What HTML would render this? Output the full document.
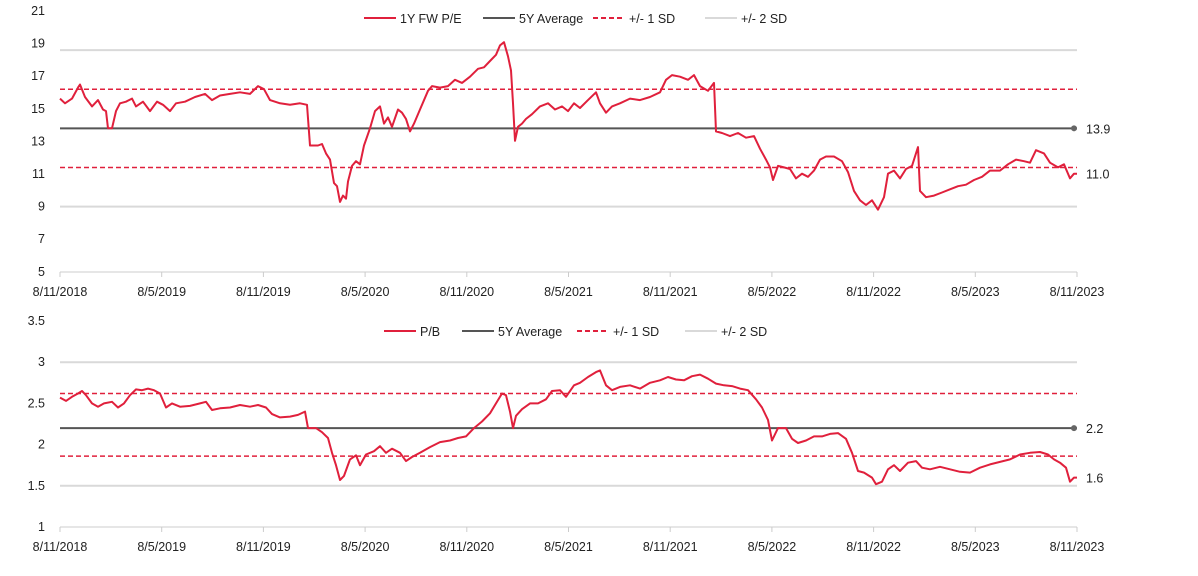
<!DOCTYPE html>
<html><head><meta charset="utf-8"><style>
body{margin:0;background:#fff;}
svg{display:block;font-family:"Liberation Sans",Arial,sans-serif;}
text{font-size:12.5px;fill:#222;}
</style></head><body>
<svg id="c" width="1198" height="576" viewBox="0 0 1198 576"></svg>
<script>
// time position on shared axis (0 = 8/11/2018, 1017 = 8/11/2023)
const xTickLabels = ["8/11/2018","8/5/2019","8/11/2019","8/5/2020","8/11/2020","8/5/2021","8/11/2021","8/5/2022","8/11/2022","8/5/2023","8/11/2023"];
const peT = [0,5,12,18,20,25,32,38,43,46,48,52,56,60,66,72,76,83,90,97,103,110,116,125,135,145,152,160,170,180,190,198,204,210,220,230,240,247,250,258,262,266,270,274,277,280,283,286,288,292,296,300,304,310,315,320,324,328,332,338,342,346,350,354,360,368,372,380,388,395,402,410,418,424,430,436,440,444,448,451,453,455,458,462,466,472,480,488,495,502,508,514,520,528,536,540,546,552,560,570,580,590,600,606,612,620,628,634,640,648,654,656,662,670,678,686,694,700,706,710,713,718,724,730,736,742,748,754,760,766,774,782,788,794,800,806,812,818,824,828,834,840,846,852,858,860,866,874,882,890,898,906,914,922,930,940,948,956,964,970,976,984,990,998,1004,1010,1014,1017];
const peV = [15.8,15.5,15.8,16.5,16.7,15.9,15.3,15.7,15.1,15.0,13.9,13.9,15.0,15.5,15.6,15.8,15.3,15.6,15.0,15.6,15.4,15.0,15.5,15.6,15.9,16.1,15.7,16.0,16.1,16.2,16.1,16.6,16.4,15.7,15.5,15.4,15.5,15.4,12.8,12.8,12.9,12.3,11.9,10.4,10.2,9.2,9.6,9.4,10.5,11.5,11.8,11.6,12.8,13.9,15.0,15.3,14.2,14.6,14.0,15.1,14.9,14.5,13.7,14.2,15.1,16.3,16.6,16.5,16.6,17.0,16.8,17.2,17.7,17.8,18.2,18.6,19.2,19.4,18.5,17.6,15.5,13.1,14.0,14.2,14.5,14.8,15.3,15.5,15.1,15.3,15.0,15.5,15.2,15.7,16.2,15.5,14.9,15.3,15.5,15.8,15.7,15.9,16.2,17.0,17.3,17.2,17.0,17.3,16.6,16.3,16.8,13.7,13.6,13.4,13.6,13.3,13.4,12.6,11.9,11.4,10.6,11.5,11.4,11.3,10.7,11.0,10.8,11.2,11.9,12.1,12.1,11.8,11.1,9.9,9.3,9.0,9.3,8.7,9.5,11.0,11.2,10.7,11.3,11.5,12.7,9.9,9.5,9.6,9.8,10.0,10.2,10.3,10.6,10.8,11.2,11.2,11.6,11.9,11.8,11.7,12.5,12.3,11.7,11.4,11.6,10.7,11.0,11.0];
const peStats = [13.9, 16.4, 11.4, 18.9, 8.9]; // avg, +1SD, -1SD, +2SD, -2SD
const peTicks = [21,19,17,15,13,11,9,7,5];

const pbT = [0,6,12,18,22,26,32,38,44,52,58,64,70,76,82,88,94,100,106,112,120,130,140,146,152,160,170,180,190,198,206,212,220,230,238,245,248,256,262,268,272,276,280,284,290,296,300,306,314,320,326,332,340,346,352,360,370,380,390,398,406,414,422,430,436,442,446,450,453,456,462,470,478,486,492,500,506,514,520,528,536,540,546,552,560,570,580,590,600,608,616,624,632,640,648,656,664,672,680,688,696,702,708,712,718,726,732,738,746,754,762,770,778,786,792,798,804,812,816,822,828,834,840,848,856,862,870,880,890,900,910,920,930,940,950,960,970,980,988,994,1000,1006,1010,1014,1017];
const pbV = [2.57,2.53,2.58,2.62,2.65,2.6,2.5,2.46,2.5,2.52,2.45,2.5,2.6,2.67,2.66,2.68,2.66,2.62,2.45,2.5,2.46,2.47,2.5,2.52,2.42,2.44,2.45,2.48,2.46,2.48,2.45,2.37,2.33,2.34,2.36,2.4,2.2,2.2,2.15,2.08,1.9,1.75,1.57,1.62,1.82,1.87,1.75,1.88,1.92,1.98,1.9,1.95,1.9,1.8,1.85,1.9,1.97,2.03,2.05,2.08,2.1,2.2,2.28,2.38,2.5,2.62,2.6,2.4,2.2,2.35,2.43,2.5,2.5,2.55,2.65,2.66,2.58,2.72,2.75,2.82,2.88,2.9,2.72,2.66,2.7,2.72,2.68,2.75,2.78,2.82,2.79,2.78,2.83,2.85,2.8,2.74,2.72,2.71,2.68,2.66,2.55,2.45,2.3,2.05,2.2,2.2,2.07,2.02,2.05,2.1,2.1,2.13,2.14,2.07,1.9,1.68,1.66,1.6,1.52,1.55,1.7,1.75,1.68,1.78,1.8,1.72,1.7,1.73,1.7,1.67,1.66,1.72,1.76,1.79,1.82,1.88,1.9,1.91,1.88,1.82,1.78,1.72,1.55,1.6,1.6];
const pbStats = [2.2, 2.62, 1.86, 3.0, 1.5];
const pbTicks = [3.5,3,2.5,2,1.5,1];

const NS="http://www.w3.org/2000/svg";
const svg=document.getElementById('c');
function el(tag,attrs,parent){const e=document.createElementNS(NS,tag);for(const k in attrs)e.setAttribute(k,attrs[k]);(parent||svg).appendChild(e);return e;}
const X0=60,X1=1077,TMAX=1017;
const x=t=>X0+(t/TMAX)*(X1-X0);

function panel(cfg){
  const g=el('g',{});
  
  
  const y=cfg.y;
  // y tick labels
  cfg.ticks.forEach((v,i)=>{
    const t=el('text',{x:45,y:cfg.labY(i)+4,'text-anchor':'end'},g);
    
    
    t.textContent=String(v);
  });
  // ±2SD lines
  [cfg.stats[3],cfg.stats[4]].forEach(v=>{
    const l=el('line',{x1:X0,x2:X1,y1:y(v),y2:y(v),stroke:'#d9d9d9','stroke-width':2},g);
    
    
  });
  // ±1SD
  [cfg.stats[1],cfg.stats[2]].forEach(v=>{
    const l=el('line',{x1:X0,x2:X1,y1:y(v),y2:y(v),stroke:'#e0203c','stroke-width':1.5,'stroke-dasharray':'5,3'},g);
    
    
  });
  // avg
  const a=el('line',{x1:X0,x2:X1,y1:y(cfg.stats[0]),y2:y(cfg.stats[0]),stroke:'#555','stroke-width':2},g);
  
  
  const dot=el('circle',{cx:X1-3,cy:y(cfg.stats[0]),r:3,fill:'#666'},g);
  
  
  // axis
  const ax=el('line',{x1:X0,x2:X1,y1:cfg.base,y2:cfg.base,stroke:'#ccc','stroke-width':1},g);
  
  
  xTickLabels.forEach((lab,i)=>{
    const tx=x(i*TMAX/10);
    const tk=el('line',{x1:tx,x2:tx,y1:cfg.base,y2:cfg.base+5,stroke:'#ccc'},g);
    
    
    const t=el('text',{x:tx,y:cfg.base+24,'text-anchor':'middle'},g);
    
    
    t.textContent=lab;
  });
  // series
  const d=cfg.T.map((t,i)=>(i?'L':'M')+x(t).toFixed(1)+' '+y(cfg.V[i]).toFixed(1)).join('');
  const p=el('path',{d:d,fill:'none',stroke:'#e0203c','stroke-width':2,'stroke-linejoin':'round'},g);
  
  
  // end labels
  const e1=el('text',{x:1086,y:y(cfg.stats[0])+5},g);
  
  
  e1.textContent=cfg.stats[0].toFixed(1);
  const last=cfg.V[cfg.V.length-1];
  const e2=el('text',{x:1086,y:y(last)+5},g);
  
  
  e2.textContent=last.toFixed(1);
  // legend
  const lg=el('g',{},g);
  
  
  cfg.legend.forEach(it=>{
    const ln=el('line',{x1:it.x,x2:it.x+32,y1:cfg.legY,y2:cfg.legY,stroke:it.c,'stroke-width':2},lg);
    if(it.dash) ln.setAttribute('stroke-dasharray','5,3');
    
    
    const t=el('text',{x:it.x+36,y:cfg.legY+5},lg);
    
    
    t.textContent=it.t;
  });
}

panel({name:'pe-chart',seriesName:'pe-series-line',T:peT,V:peV,stats:peStats,ticks:peTicks,
  y:v=>205-(v-9)*15.65, labY:i=>11+i*32.6, base:272, legY:18,
  legend:[{x:364,c:'#e0203c',t:'1Y FW P/E'},{x:483,c:'#555',t:'5Y Average'},{x:593,c:'#e0203c',dash:1,t:'+/- 1 SD'},{x:705,c:'#d9d9d9',t:'+/- 2 SD'}]});
panel({name:'pb-chart',seriesName:'pb-series-line',T:pbT,V:pbV,stats:pbStats,ticks:pbTicks,
  y:v=>527-(v-1)*82.4, labY:i=>321+i*41.2, base:527, legY:331,
  legend:[{x:384,c:'#e0203c',t:'P/B'},{x:462,c:'#555',t:'5Y Average'},{x:577,c:'#e0203c',dash:1,t:'+/- 1 SD'},{x:685,c:'#d9d9d9',t:'+/- 2 SD'}]});
</script>
</body></html>
